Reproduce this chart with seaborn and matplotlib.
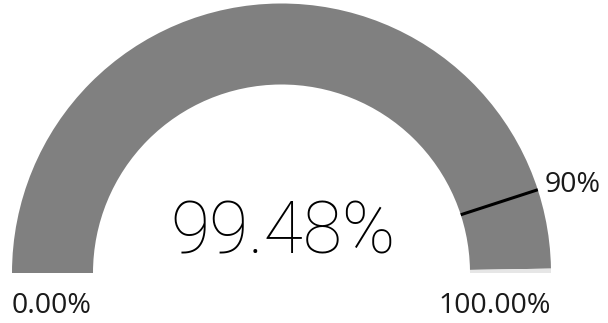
import numpy as np
import matplotlib
matplotlib.use("Agg")
import matplotlib.pyplot as plt
import seaborn as sns

# Gauge values
value = 99.48
target = 90.0
gauge_min = 0.0
gauge_max = 100.0

fill_color = "#808080"
track_color = "#e6e6e6"

sns.set_theme(style="white")
plt.rcParams["font.family"] = ["Open Sans", "DejaVu Sans"]

W, H = 608, 323
fig = plt.figure(figsize=(W / 100, H / 100), dpi=100)
ax = fig.add_axes([0, 0, 1, 1])

cx, cy = 281.5, 50.0
r_out, r_in = 269.5, 188.5
span = gauge_max - gauge_min

# Half-donut: filled part, remaining track, and an invisible lower half
ax.pie(
    [value - gauge_min, gauge_max - value, span],
    colors=[fill_color, track_color, "none"],
    startangle=180, counterclock=False,
    radius=r_out, center=(cx, cy), frame=True,
    wedgeprops=dict(width=r_out - r_in, linewidth=0),
)

# Target marker across the band
theta = np.pi * (1 - (target - gauge_min) / span)
ax.plot([cx + r_in * np.cos(theta), cx + r_out * np.cos(theta)],
        [cy + r_in * np.sin(theta), cy + r_out * np.sin(theta)],
        color="black", lw=2.2, solid_capstyle="butt")

ax.set_xlim(0, W)
ax.set_ylim(0, H)
ax.set_aspect("equal")
ax.axis("off")

lab_kw = dict(fontsize=20.5, color="#1a1a1a", va="baseline")
ax.text(cx - r_out, 10, f"{gauge_min:.2f}%", ha="left", **lab_kw)
ax.text(cx + r_out, 10, f"{gauge_max:.2f}%", ha="right", **lab_kw)
ax.text(545, 131, f"{target:.0f}%", ha="left", **lab_kw)

ax.text(cx + 1, 70, f"{value:.2f}%", ha="center", va="baseline",
        fontsize=51.5, color="#000000", family=["Roboto", "DejaVu Sans"],
        fontweight="light")

fig.savefig("out.png", dpi=100)
